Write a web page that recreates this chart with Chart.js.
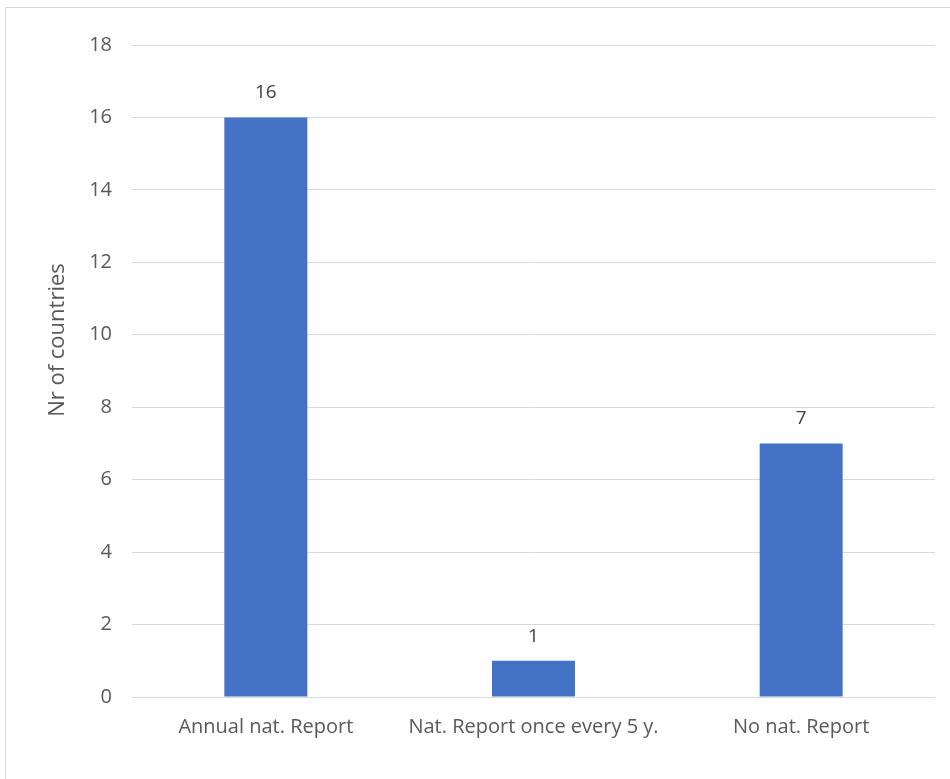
<!DOCTYPE html>
<html>
<head>
<meta charset="utf-8">
<script src="https://cdn.jsdelivr.net/npm/chart.js@4/dist/chart.umd.min.js"></script>
<style>
    html, body { margin: 0; padding: 0; background: #fff; }
    #wrap { position: relative; width: 950px; height: 779px; }
    #frame {
        position: absolute; left: 5px; top: 7px; right: -10px; bottom: -10px;
        border-left: 1px solid #d9d9d9; border-top: 1px solid #d9d9d9;
    }
    canvas { position: absolute; left: 0; top: 0; }
</style>
</head>
<body>
<div id="wrap">
    <div id="frame"></div>
    <canvas id="chart" width="950" height="779"></canvas>
</div>
<script>
const categories = ['Annual nat. Report', 'Nat. Report once every 5 y.', 'No nat. Report'];
const countries = [16, 1, 7];
const yTicks = [0, 2, 4, 6, 8, 10, 12, 14, 16, 18];
const yTitle = 'Nr of countries';

const textColor = '#595959';
const fontFamily = '"Open Sans", "Noto Sans", sans-serif';

// value labels above each bar + rotated axis title
const extras = {
    id: 'extras',
    afterDatasetsDraw(chart) {
        const ctx = chart.ctx;
        const meta = chart.getDatasetMeta(0);
        ctx.save();
        ctx.font = '19px ' + fontFamily;
        ctx.fillStyle = '#404040';
        ctx.textAlign = 'center';
        ctx.textBaseline = 'alphabetic';
        meta.data.forEach((bar, i) => {
            ctx.fillText(String(chart.data.datasets[0].data[i]), bar.x, bar.y - 19);
        });
        ctx.restore();

        ctx.save();
        ctx.font = '22px ' + fontFamily;
        ctx.fillStyle = textColor;
        ctx.textAlign = 'center';
        ctx.textBaseline = 'middle';
        ctx.translate(58, 340);
        ctx.rotate(-Math.PI / 2);
        ctx.fillText(yTitle, 0, 0);
        ctx.restore();
    }
};

new Chart(document.getElementById('chart'), {
    type: 'bar',
    data: {
        labels: categories,
        datasets: [{
            label: yTitle,
            data: countries,
            backgroundColor: '#4472C4',
            borderWidth: 0,
            categoryPercentage: 1,
            barPercentage: 0.31
        }]
    },
    options: {
        responsive: false,
        animation: false,
        layout: { padding: { left: 45, right: 15, top: 45, bottom: 0 } },
        plugins: {
            legend: { display: false },
            tooltip: { enabled: false }
        },
        scales: {
            x: {
                grid: { display: false },
                border: { display: false },
                ticks: {
                    color: textColor,
                    font: { family: fontFamily, size: 20 },
                    padding: 10,
                    maxRotation: 0
                },
                afterFit: scale => { scale.height = 82; }
            },
            y: {
                min: 0,
                max: 18,
                afterBuildTicks: scale => { scale.ticks = yTicks.map(v => ({ value: v })); },
                grid: { color: '#d9d9d9', lineWidth: 1, drawTicks: false },
                border: { display: false },
                ticks: {
                    color: textColor,
                    font: { family: fontFamily, size: 20 },
                    padding: 20
                },
                afterFit: scale => { scale.width = 87; }
            }
        }
    },
    plugins: [extras]
});
</script>
</body>
</html>
